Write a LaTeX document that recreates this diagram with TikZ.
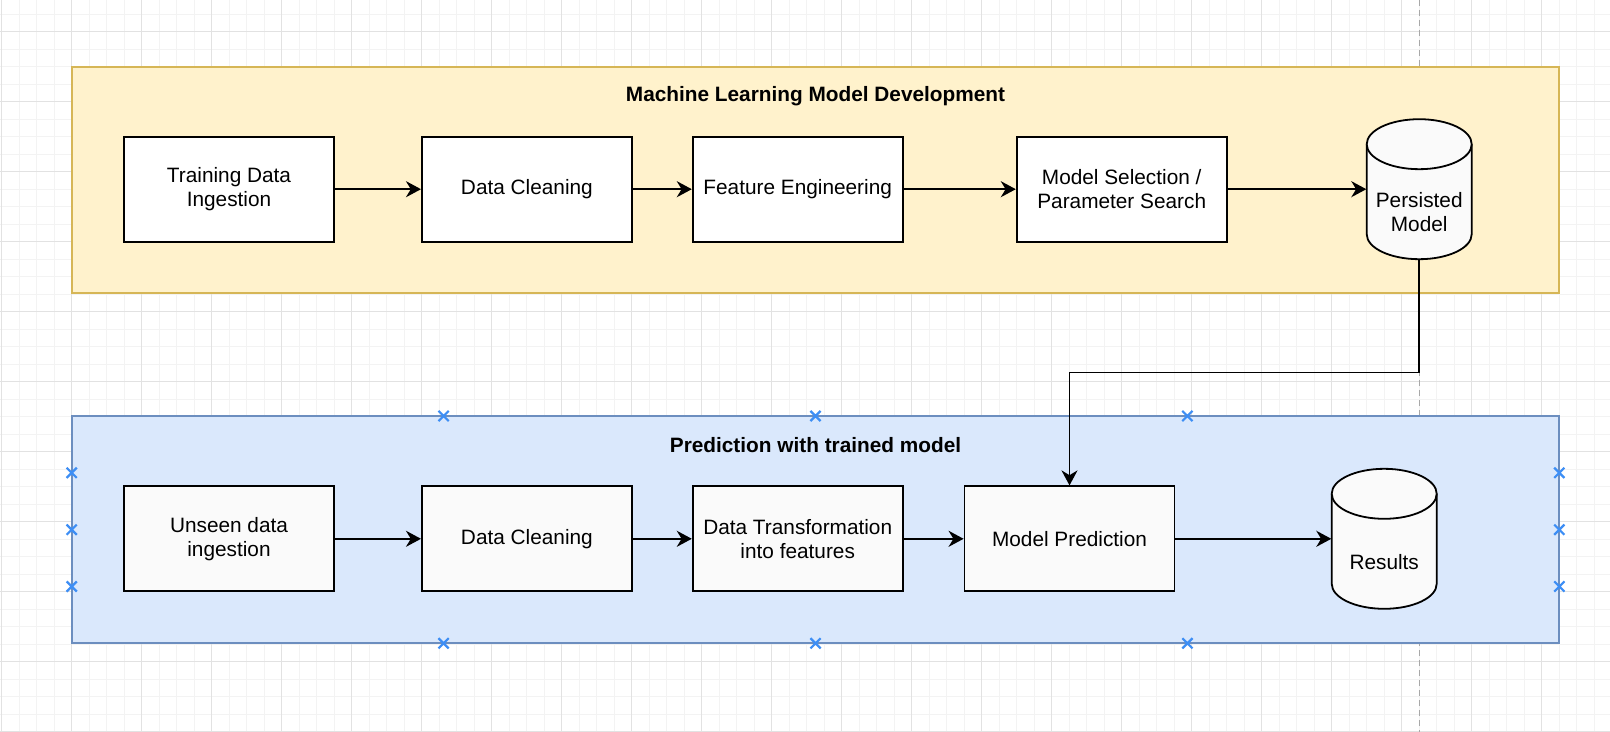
\documentclass[tikz,border=0pt]{standalone}
\usepackage{fontspec}
\setmainfont{Liberation Sans}
\usetikzlibrary{arrows.meta,shapes.misc}
\definecolor{ylfill}{HTML}{FFF2CC}
\definecolor{yldraw}{HTML}{D6B656}
\definecolor{blfill}{HTML}{DAE8FC}
\definecolor{bldraw}{HTML}{6C8EBF}
\definecolor{gridminor}{HTML}{F3F3F3}
\definecolor{gridmajor}{HTML}{E2E2E2}
\definecolor{markblue}{HTML}{3D8EF5}
\definecolor{boxfill}{HTML}{FAFAFA}
\definecolor{guidegray}{HTML}{A8A8A8}
\newcommand\drawcyl[2]{%
  \filldraw[cylstyle] ({#1-52.5},{#2-45}) arc[start angle=180,end angle=360,x radius=52.5,y radius=25]
    -- ({#1+52.5},{#2+45}) arc[start angle=0,end angle=180,x radius=52.5,y radius=25] -- cycle;
  \draw[cylstyle] ({#1-52.5},{#2-45}) arc[start angle=180,end angle=0,x radius=52.5,y radius=25];
}
\begin{document}
\begin{tikzpicture}[x=0.5pt,y=-0.5pt,
  txt/.style={font=\fontsize{10.4}{12.15}\selectfont, align=center, text=black},
  stepbox/.style={txt, draw=black, line width=0.9pt, fill=#1, minimum width=105pt, minimum height=52.5pt, inner sep=0pt},
  stepbox/.default=white,
  cylstyle/.style={draw=black, line width=0.9pt, fill=boxfill},
  cylanchor/.style={minimum width=52.5pt, minimum height=70pt, inner sep=0pt},
  grouptitle/.style={font=\bfseries\fontsize{10.4}{12.15}\selectfont, anchor=base, text=black},
  flow/.style={draw=black, line width=0.95pt, -{Stealth[length=7.5pt,width=8pt,inset=2.4pt]}},
  marker/.style={cross out, draw=markblue, line width=1.1pt, minimum size=4pt, inner sep=0pt},
]
\useasboundingbox (0,0) rectangle (1610,732);
\fill[white] (0,0) rectangle (1610,732);
% grid
\foreach \i in {0,...,91} \draw[gridminor, line width=0.5pt] ({1.7+17.5*\i},0) -- ({1.7+17.5*\i},732);
\foreach \j in {0,...,41} \draw[gridminor, line width=0.5pt] (0,{14.2+17.5*\j}) -- (1610,{14.2+17.5*\j});
\foreach \i in {0,...,22} \draw[gridmajor, line width=0.5pt] ({1.7+70*\i},0) -- ({1.7+70*\i},732);
\foreach \j in {0,...,10} \draw[gridmajor, line width=0.5pt] (0,{31.7+70*\j}) -- (1610,{31.7+70*\j});
% guide line
\draw[guidegray, line width=0.6pt, dash pattern=on 3pt off 2pt] (1419.3,0) -- (1419.3,732);
% groups
\filldraw[fill=ylfill, draw=yldraw, line width=0.9pt] (71.7,66.7) rectangle (1559.3,293.3);
\filldraw[fill=blfill, draw=bldraw, line width=0.9pt] (71.7,416) rectangle (1559.3,643.3);
\node[grouptitle] (t1) at (815.5,101.7) {Machine Learning Model Development};
\node[grouptitle] (t2) at (815.5,452.3) {Prediction with trained model};
% markers
\foreach \x [count=\k] in {443.6,815.5,1187.4} {
  \node[marker] (mt\k) at (\x,416) {};
  \node[marker] (mb\k) at (\x,643.3) {};
}
\foreach \y [count=\k] in {472.8,529.7,586.5} {
  \node[marker] (ml\k) at (71.7,\y) {};
  \node[marker] (mr\k) at (1559.3,\y) {};
}
% top row
\node[stepbox] (tdi) at (229,189.2) {Training Data\\Ingestion};
\node[stepbox] (dc1) at (526.9,189.2) {Data Cleaning};
\node[stepbox] (fe) at (797.7,189.2) {Feature Engineering};
\node[stepbox] (ms) at (1121.7,189.2) {Model Selection /\\Parameter Search};
\drawcyl{1419.2}{189.2}
\node[cylanchor] (pm) at (1419.2,189.2) {};
\node[txt] (pmtext) at (1419.2,212.2) {Persisted\\Model};
% bottom row
\node[stepbox=boxfill] (udi) at (229,538.8) {Unseen data\\ingestion};
\node[stepbox=boxfill] (dc2) at (526.9,538.8) {Data Cleaning};
\node[stepbox=boxfill] (dt) at (797.7,538.8) {Data Transformation\\into features};
\node[stepbox=boxfill] (mp) at (1069.5,538.8) {Model Prediction};
\drawcyl{1384.2}{538.8}
\node[cylanchor] (res) at (1384.2,538.8) {};
\node[txt] (restext) at (1384.2,561.8) {Results};
% connectors
\draw[flow] (tdi) -- (dc1);
\draw[flow] (dc1) -- (fe);
\draw[flow] (fe) -- (ms);
\draw[flow] (ms) -- (pm.west);
\coordinate (bend) at (1419.2,372.5);
\draw[flow] (pm.south) -- (bend) -| (mp.north);
\draw[flow] (udi) -- (dc2);
\draw[flow] (dc2) -- (dt);
\draw[flow] (dt) -- (mp);
\draw[flow] (mp) -- (res.west);
\end{tikzpicture}
\end{document}
